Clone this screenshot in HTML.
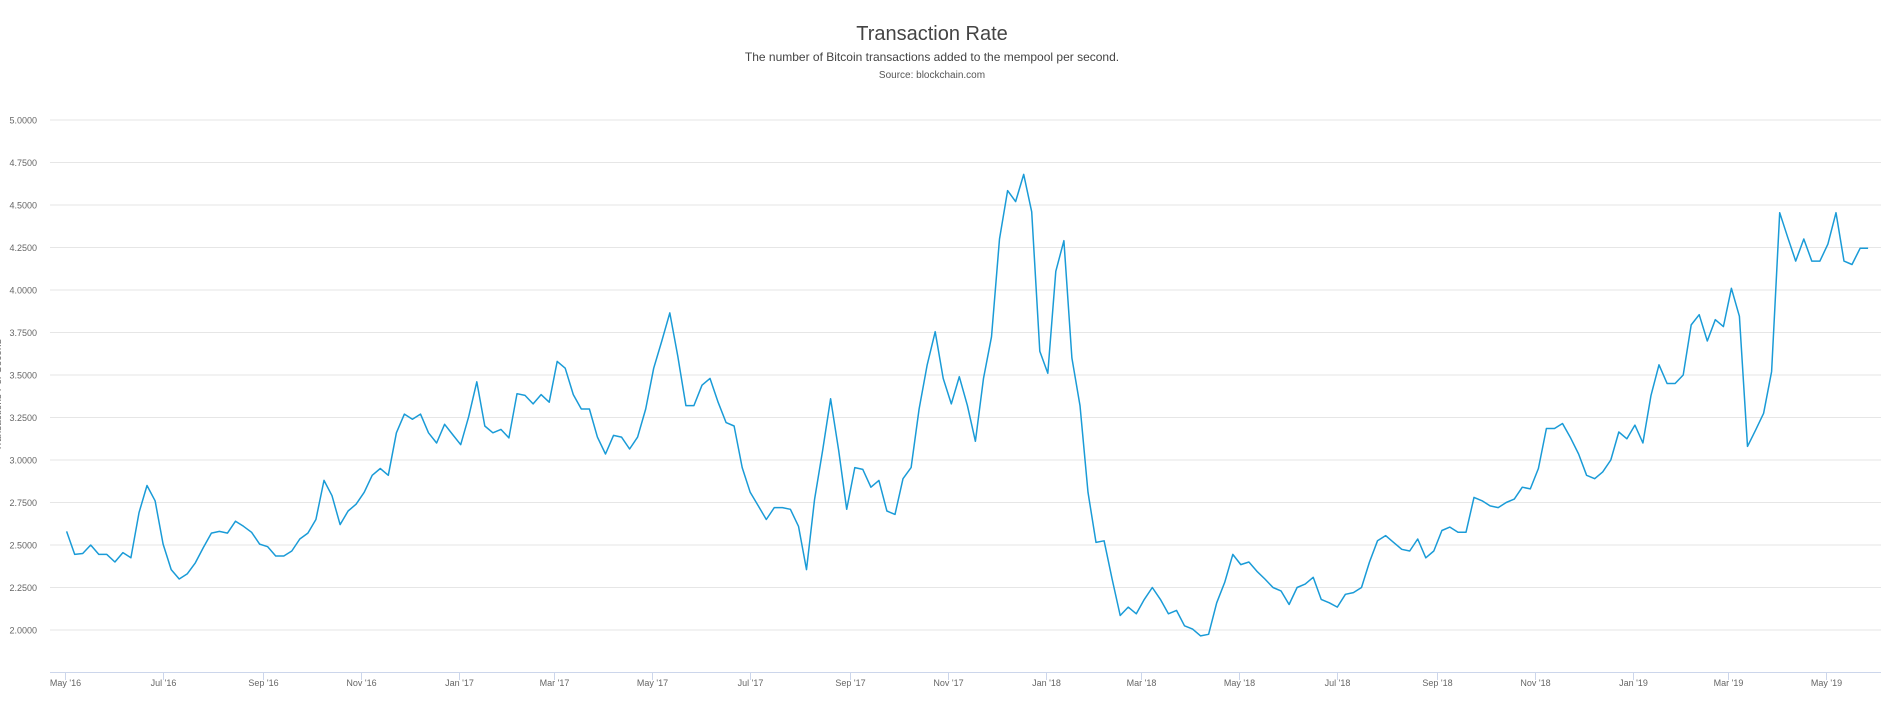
<!DOCTYPE html>
<html><head><meta charset="utf-8"><style>
html,body{margin:0;padding:0;background:#fff;}
svg{display:block;font-family:"Liberation Sans",Arial,sans-serif;}
</style></head><body>
<svg id="chart" width="1897" height="709" viewBox="0 0 1897 709" xmlns="http://www.w3.org/2000/svg">
<text x="932" y="40" text-anchor="middle" font-size="20" fill="#444">Transaction Rate</text>
<text x="932" y="61" text-anchor="middle" font-size="12" fill="#444">The number of Bitcoin transactions added to the mempool per second.</text>
<text x="932" y="78" text-anchor="middle" font-size="10" fill="#555">Source: blockchain.com</text>
<text transform="translate(1,395) rotate(-90)" text-anchor="middle" font-size="10" fill="#666">Transactions Per Second</text>
<g id="grid"></g><g id="yl"></g><g id="xa"></g><g id="series"></g>
</svg>
<script>
const yTicks=[2,2.25,2.5,2.75,3,3.25,3.5,3.75,4,4.25,4.5,4.75,5];
const xTickLabels=["May '16","Jul '16","Sep '16","Nov '16","Jan '17","Mar '17","May '17","Jul '17","Sep '17","Nov '17","Jan '18","Mar '18","May '18","Jul '18","Sep '18","Nov '18","Jan '19","Mar '19","May '19"];
const xTickDates=["2016-05-01","2016-07-01","2016-09-01","2016-11-01","2017-01-01","2017-03-01","2017-05-01","2017-07-01","2017-09-01","2017-11-01","2018-01-01","2018-03-01","2018-05-01","2018-07-01","2018-09-01","2018-11-01","2019-01-01","2019-03-01","2019-05-01"];
const seriesStart="2016-05-02";
const seriesStepDays=5;
const rateValues=[2.58,2.445,2.45,2.50,2.445,2.445,2.40,2.455,2.425,2.69,2.85,2.76,2.505,2.355,2.30,2.33,2.395,2.485,2.57,2.58,2.57,2.64,2.61,2.575,2.505,2.49,2.435,2.435,2.465,2.535,2.57,2.65,2.88,2.79,2.62,2.70,2.74,2.81,2.91,2.95,2.91,3.16,3.27,3.24,3.27,3.16,3.10,3.21,3.15,3.09,3.255,3.46,3.20,3.16,3.18,3.13,3.39,3.38,3.33,3.385,3.34,3.58,3.54,3.385,3.30,3.30,3.135,3.035,3.145,3.135,3.065,3.135,3.30,3.54,3.70,3.865,3.61,3.32,3.32,3.44,3.48,3.34,3.22,3.20,2.955,2.81,2.73,2.65,2.72,2.72,2.71,2.61,2.355,2.77,3.055,3.36,3.055,2.71,2.955,2.945,2.84,2.88,2.70,2.68,2.89,2.955,3.30,3.56,3.755,3.48,3.33,3.49,3.32,3.11,3.48,3.725,4.30,4.585,4.52,4.68,4.46,3.64,3.51,4.11,4.29,3.60,3.32,2.81,2.515,2.525,2.30,2.085,2.135,2.095,2.18,2.25,2.18,2.095,2.115,2.025,2.005,1.965,1.975,2.16,2.28,2.445,2.385,2.40,2.345,2.30,2.25,2.23,2.15,2.25,2.27,2.31,2.18,2.16,2.135,2.21,2.22,2.25,2.40,2.525,2.555,2.515,2.475,2.465,2.535,2.425,2.465,2.585,2.605,2.575,2.575,2.78,2.76,2.73,2.72,2.75,2.77,2.84,2.83,2.95,3.185,3.185,3.215,3.13,3.035,2.91,2.89,2.93,3.00,3.165,3.125,3.205,3.10,3.38,3.56,3.45,3.45,3.50,3.795,3.855,3.70,3.825,3.785,4.01,3.845,3.08,3.175,3.275,3.52,4.455,4.31,4.17,4.30,4.17,4.17,4.27,4.455,4.17,4.15,4.245,4.245];

const NS="http://www.w3.org/2000/svg";
const L=50,R=1881,T=120,B=630,AX=672;
const D0=Date.UTC(2016,4,1),PXD=1.6085,X0=65;
function dayOf(s){const p=s.split('-');return (Date.UTC(+p[0],+p[1]-1,+p[2])-D0)/864e5;}
function xS(d){return X0+d*PXD;}
function yS(v){return B-(v-2)*(B-T)/3;}
function mk(t,a,parent){const e=document.createElementNS(NS,t);for(const k in a)e.setAttribute(k,a[k]);parent.appendChild(e);return e;}
const g=document.getElementById('grid'),yl=document.getElementById('yl'),xa=document.getElementById('xa'),sg=document.getElementById('series');
yTicks.forEach(v=>{
  const ln=mk('line',{x1:L,x2:R,y1:yS(v),y2:yS(v),stroke:'#e6e6e6','stroke-width':1},g);
  
  
  const t=mk('text',{x:37,y:yS(v)+3.5,'text-anchor':'end','font-size':9,fill:'#666'},yl);
  t.textContent=v.toFixed(4);
  
  
});
const axl=mk('line',{x1:L,x2:R,y1:AX+0.5,y2:AX+0.5,stroke:'#ccd6eb','stroke-width':1},xa);


xTickLabels.forEach((lab,i)=>{
  const x=Math.round(xS(dayOf(xTickDates[i])))+0.5;
  const tk=mk('line',{x1:x,x2:x,y1:AX,y2:AX+8,stroke:'#ccd6eb','stroke-width':1},xa);
  
  
  const t=mk('text',{x:x,y:686,'text-anchor':'middle','font-size':9,fill:'#666'},xa);
  t.textContent=lab;
  
  
});
const s0=dayOf(seriesStart);
const pts=rateValues.map((v,i)=>xS(s0+i*seriesStepDays).toFixed(1)+','+yS(v).toFixed(1)).join(' ');
const pl=mk('polyline',{points:pts,fill:'none',stroke:'#1a9bd7','stroke-width':1.5,'stroke-linejoin':'round'},sg);


</script>
</body></html>
